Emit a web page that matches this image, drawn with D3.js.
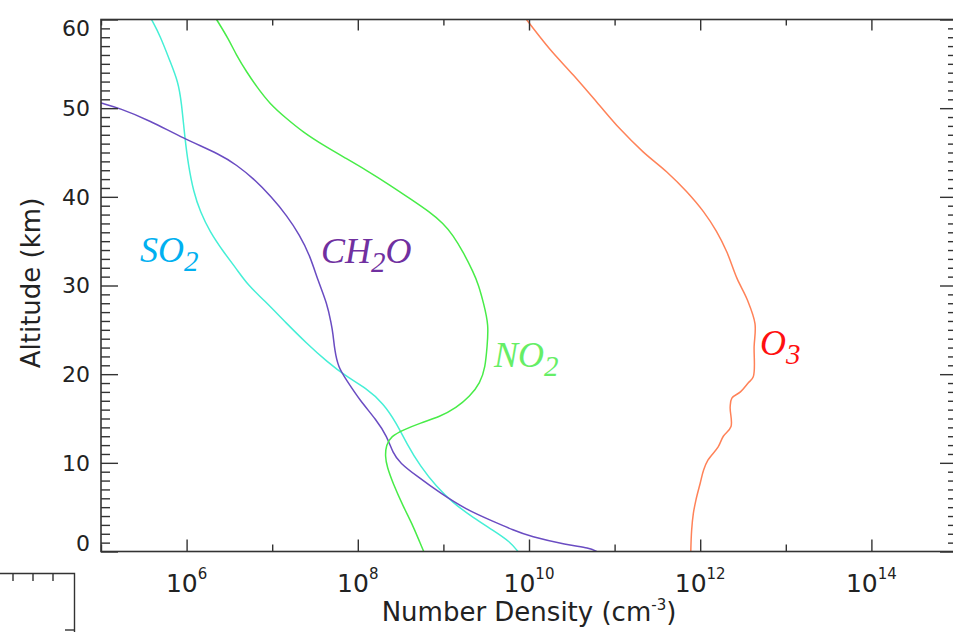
<!DOCTYPE html>
<html>
<head>
<meta charset="utf-8">
<script src="https://cdn.jsdelivr.net/npm/d3@7"></script>
<style>
    body { margin: 0; background: #fff; }
    #profile-vis { width: 953px; height: 632px; }
    .tick-label { font-family: "DejaVu Sans", sans-serif; fill: #222; }
    .axis-title { font-family: "DejaVu Sans", sans-serif; fill: #222; }
    .species-label { font-family: "Liberation Serif", serif; font-style: italic; }
</style>
</head>
<body>
<div id="profile-vis"></div>
<script>
/* * * * * * * * * * * * * *
*    trace gas profiles    *
* * * * * * * * * * * * * */

// altitude (km) and log10 number density (cm^-3)
let so2Alt  = [60.0, 58.2, 55.2, 53.0, 50.7, 46.6, 43.6, 40.6, 38.3, 36.1, 33.8, 31.9, 30.0, 28.4, 25.7, 23.5, 21.4, 19.7, 18.4, 16.7, 14.5, 12.2, 9.6, 7.3, 5.5, 3.8, 2.4, 1.1, 0];
let so2LogN = [5.59, 5.69, 5.81, 5.90, 5.94, 5.98, 6.02, 6.08, 6.16, 6.27, 6.43, 6.58, 6.72, 6.90, 7.17, 7.40, 7.64, 7.87, 8.10, 8.30, 8.45, 8.57, 8.73, 8.92, 9.11, 9.35, 9.58, 9.78, 9.87];

let ch2oAlt  = [50.9, 50.6, 50.0, 48.6, 46.6, 44.7, 43.6, 42.1, 40.0, 37.9, 35.7, 33.4, 30.4, 28.0, 25.7, 24.6, 22.7, 20.8, 19.3, 17.1, 14.8, 13.0, 11.1, 10.0, 8.5, 6.6, 4.7, 3.4, 2.4, 1.7, 0.75, 0.4, 0];
let ch2oLogN = [4.90, 4.99, 5.22, 5.57, 5.96, 6.41, 6.58, 6.78, 6.99, 7.17, 7.32, 7.44, 7.54, 7.64, 7.69, 7.71, 7.73, 7.77, 7.87, 8.02, 8.22, 8.34, 8.41, 8.49, 8.69, 8.96, 9.27, 9.58, 9.82, 10.01, 10.44, 10.71, 10.79];

let no2Alt  = [60.0, 57.8, 56.0, 54.1, 52.4, 50.5, 48.8, 47.3, 45.8, 44.3, 43.0, 41.3, 39.8, 38.3, 37.0, 35.7, 33.8, 31.5, 30.1, 28.0, 25.5, 23.1, 20.8, 19.0, 17.5, 16.2, 15.2, 14.5, 13.7, 13.0, 12.0, 10.7, 9.6, 7.7, 5.1, 2.8, 0.9, 0];
let no2LogN = [6.35, 6.49, 6.58, 6.70, 6.82, 6.97, 7.17, 7.36, 7.60, 7.87, 8.10, 8.38, 8.61, 8.84, 9.00, 9.11, 9.23, 9.35, 9.41, 9.47, 9.53, 9.51, 9.49, 9.43, 9.31, 9.15, 8.96, 8.73, 8.53, 8.39, 8.33, 8.32, 8.34, 8.41, 8.53, 8.65, 8.73, 8.77];

let o3Alt  = [60.0, 56.7, 53.7, 50.7, 47.7, 45.1, 42.8, 40.6, 38.3, 36.1, 33.8, 30.8, 28.4, 25.7, 23.1, 19.7, 19.0, 18.0, 17.3, 16.3, 14.1, 13.0, 11.8, 10.3, 9.2, 7.7, 5.8, 4.3, 2.4, 0];
let o3LogN = [9.97, 10.24, 10.52, 10.79, 11.06, 11.33, 11.61, 11.84, 12.04, 12.19, 12.31, 12.43, 12.55, 12.64, 12.63, 12.62, 12.56, 12.47, 12.37, 12.35, 12.36, 12.27, 12.21, 12.09, 12.04, 12.00, 11.95, 11.92, 11.90, 11.89];

// axis ticks
let decadeExponents = [5, 6, 7, 8, 9, 10, 11, 12, 13, 14, 15];
let labelExponents = [6, 8, 10, 12, 14];
let altitudeLabels = [0, 10, 20, 30, 40, 50, 60];

// species names for the labels
let speciesNames = ["SO2", "CH2O", "NO2", "O3"];


class ProfileVis {

    /* Constructor method */
    constructor(parentElement) {
        this.parentElement = parentElement;
        this.initVis();
    }

    /* Initialize visualization */
    initVis () {
        let vis = this;

        // plot box (right edge sits just past the window, like the original)
        vis.margin = {top: 19.5, left: 101, right: -4, bottom: 80.5};
        vis.width = 953 - vis.margin.left - vis.margin.right;
        vis.height = 632 - vis.margin.top - vis.margin.bottom;

        vis.svg = d3.select("#" + vis.parentElement).append("svg")
            .attr("width", 953)
            .attr("height", 632);

        vis.g = vis.svg.append("g")
            .attr("transform", `translate(${vis.margin.left}, ${vis.margin.top})`);

        vis.g.append("clipPath")
            .attr("id", "plot-clip")
            .append("rect")
            .attr("width", vis.width)
            .attr("height", vis.height);

        // scales
        vis.x = d3.scaleLog()
            .domain([1e5, 1e15])
            .range([0, vis.width]);

        vis.y = d3.scaleLinear()
            .domain([0, 60])
            .range([vis.height, 0]);

        vis.wrangleData();
    }

    /* Data wrangling */
    wrangleData () {
        let vis = this;

        let zip = (alts, logs) => alts.map((a, i) => ({alt: a, n: Math.pow(10, logs[i])}));

        // smooth curves for the model profiles, ozone keeps its kinks
        vis.series = [
            {key: "SO2",  values: zip(so2Alt, so2LogN),   line: "#45efd6", curve: d3.curveBasis},
            {key: "CH2O", values: zip(ch2oAlt, ch2oLogN), line: "#6a4cc2", curve: d3.curveBasis},
            {key: "NO2",  values: zip(no2Alt, no2LogN),   line: "#48ec48", curve: d3.curveBasis},
            {key: "O3",   values: zip(o3Alt, o3LogN),     line: "#ff8258", curve: d3.curveCatmullRom.alpha(0.5)}
        ];

        vis.updateVis();
    }

    /* Update visualization */
    updateVis() {
        let vis = this;
        let axisColor = "#333";

        // profile lines
        vis.g.append("g")
            .attr("clip-path", "url(#plot-clip)")
            .selectAll(".profile")
            .data(vis.series)
            .enter()
            .append("path")
            .attr("class", "profile")
            .attr("fill", "none")
            .attr("stroke", d => d.line)
            .attr("stroke-width", 1.5)
            .attr("d", d => d3.line()
                .x(p => vis.x(p.n))
                .y(p => vis.y(p.alt))
                .curve(d.curve)(d.values));

        // ticks: bottom / top (decades, labelled ones longer)
        let minorDecades = decadeExponents.filter(e => labelExponents.indexOf(e) < 0).map(e => Math.pow(10, e));
        let majorDecades = labelExponents.map(e => Math.pow(10, e));
        let kmMinor = d3.range(0, 61, 1).filter(k => k % 10 !== 0);
        let kmMajor = altitudeLabels;

        let addAxis = (axis, transform) => {
            let a = vis.g.append("g")
                .attr("transform", transform)
                .call(axis);
            a.select(".domain").remove();
            a.selectAll("line").attr("stroke", axisColor).attr("stroke-width", 1.4);
            a.selectAll("text").remove();
        };

        addAxis(d3.axisBottom(vis.x).tickValues(minorDecades).tickSize(-7), `translate(0, ${vis.height})`);
        addAxis(d3.axisBottom(vis.x).tickValues(majorDecades).tickSize(-12), `translate(0, ${vis.height})`);
        addAxis(d3.axisTop(vis.x).tickValues(minorDecades).tickSize(-6), "translate(0, 0)");
        addAxis(d3.axisTop(vis.x).tickValues(majorDecades).tickSize(-11), "translate(0, 0)");

        addAxis(d3.axisLeft(vis.y).tickValues(kmMinor).tickSize(-9), "translate(0, 0)");
        addAxis(d3.axisLeft(vis.y).tickValues(kmMajor).tickSize(-17), "translate(0, 0)");
        addAxis(d3.axisRight(vis.y).tickValues(kmMinor).tickSize(-9), `translate(${vis.width}, 0)`);
        addAxis(d3.axisRight(vis.y).tickValues(kmMajor).tickSize(-17), `translate(${vis.width}, 0)`);

        // frame
        vis.g.append("rect")
            .attr("width", vis.width)
            .attr("height", vis.height)
            .attr("fill", "none")
            .attr("stroke", axisColor)
            .attr("stroke-width", 1.6);

        // x tick labels: 10^n
        let xLabels = vis.g.selectAll(".x-label")
            .data(majorDecades)
            .enter()
            .append("text")
            .attr("class", "tick-label x-label")
            .attr("x", d => vis.x(d))
            .attr("y", vis.height + 40.5)
            .attr("text-anchor", "middle")
            .style("font-size", "25px");
        xLabels.append("tspan").text("10");
        xLabels.append("tspan")
            .attr("dy", -13)
            .style("font-size", "15px")
            .text(d => Math.round(Math.log10(d)));

        // y tick labels (end labels kept inside the box)
        vis.g.selectAll(".y-label")
            .data(altitudeLabels)
            .enter()
            .append("text")
            .attr("class", "tick-label y-label")
            .attr("x", -11)
            .attr("y", d => vis.y(d) + (d === 0 ? -8.5 : d === 60 ? 8.5 : 0))
            .attr("dy", "0.36em")
            .attr("text-anchor", "end")
            .style("font-size", "22px")
            .text(d => d);

        // axis titles
        vis.svg.append("text")
            .attr("class", "axis-title")
            .attr("transform", "translate(40, 283) rotate(-90)")
            .attr("text-anchor", "middle")
            .style("font-size", "26px")
            .text("Altitude (km)");

        let xTitle = vis.svg.append("text")
            .attr("class", "axis-title")
            .attr("x", vis.margin.left + vis.x(1e10))
            .attr("y", 621)
            .attr("text-anchor", "middle")
            .style("font-size", "26px");
        xTitle.append("tspan").text("Number Density (cm");
        xTitle.append("tspan").attr("dy", -11).style("font-size", "15px").text("-3");
        xTitle.append("tspan").attr("dy", 11).text(")");

        // species labels
        let labelInfo = [
            {main: "SO", sub: "2", tail: "", x: 140, y: 262, color: "#00b0f0"},
            {main: "CH", sub: "2", tail: "O", x: 321, y: 263, color: "#7030a0"},
            {main: "NO", sub: "2", tail: "", x: 494, y: 367, color: "#66ee66"},
            {main: "O", sub: "3", tail: "", x: 760, y: 355, color: "#ff1010"}
        ];
        labelInfo.forEach((d, i) => d.key = speciesNames[i]);

        let labels = vis.svg.selectAll(".species-label")
            .data(labelInfo)
            .enter()
            .append("text")
            .attr("class", "species-label")
            .attr("x", d => d.x)
            .attr("y", d => d.y)
            .attr("fill", d => d.color)
            .style("font-size", "36px");
        labels.append("tspan").text(d => d.main);
        labels.append("tspan")
            .attr("dy", 9)
            .style("font-size", "29px")
            .text(d => d.sub);
        labels.append("tspan")
            .attr("dy", -9)
            .text(d => d.tail);

        // leftover corner of a neighbouring panel (bottom left)
        let corner = vis.svg.append("g")
            .attr("stroke", axisColor)
            .attr("stroke-width", 1.4)
            .attr("fill", "none");
        corner.append("path").attr("d", "M0,573.5 H74.5 V632");
        [13, 33, 53].forEach(px => corner.append("line")
            .attr("x1", px).attr("x2", px).attr("y1", 573.5).attr("y2", 581));
        corner.append("line").attr("x1", 65).attr("x2", 74.5).attr("y1", 630).attr("y2", 630);
    }
}

let myProfileVis = new ProfileVis("profile-vis");
</script>
</body>
</html>
